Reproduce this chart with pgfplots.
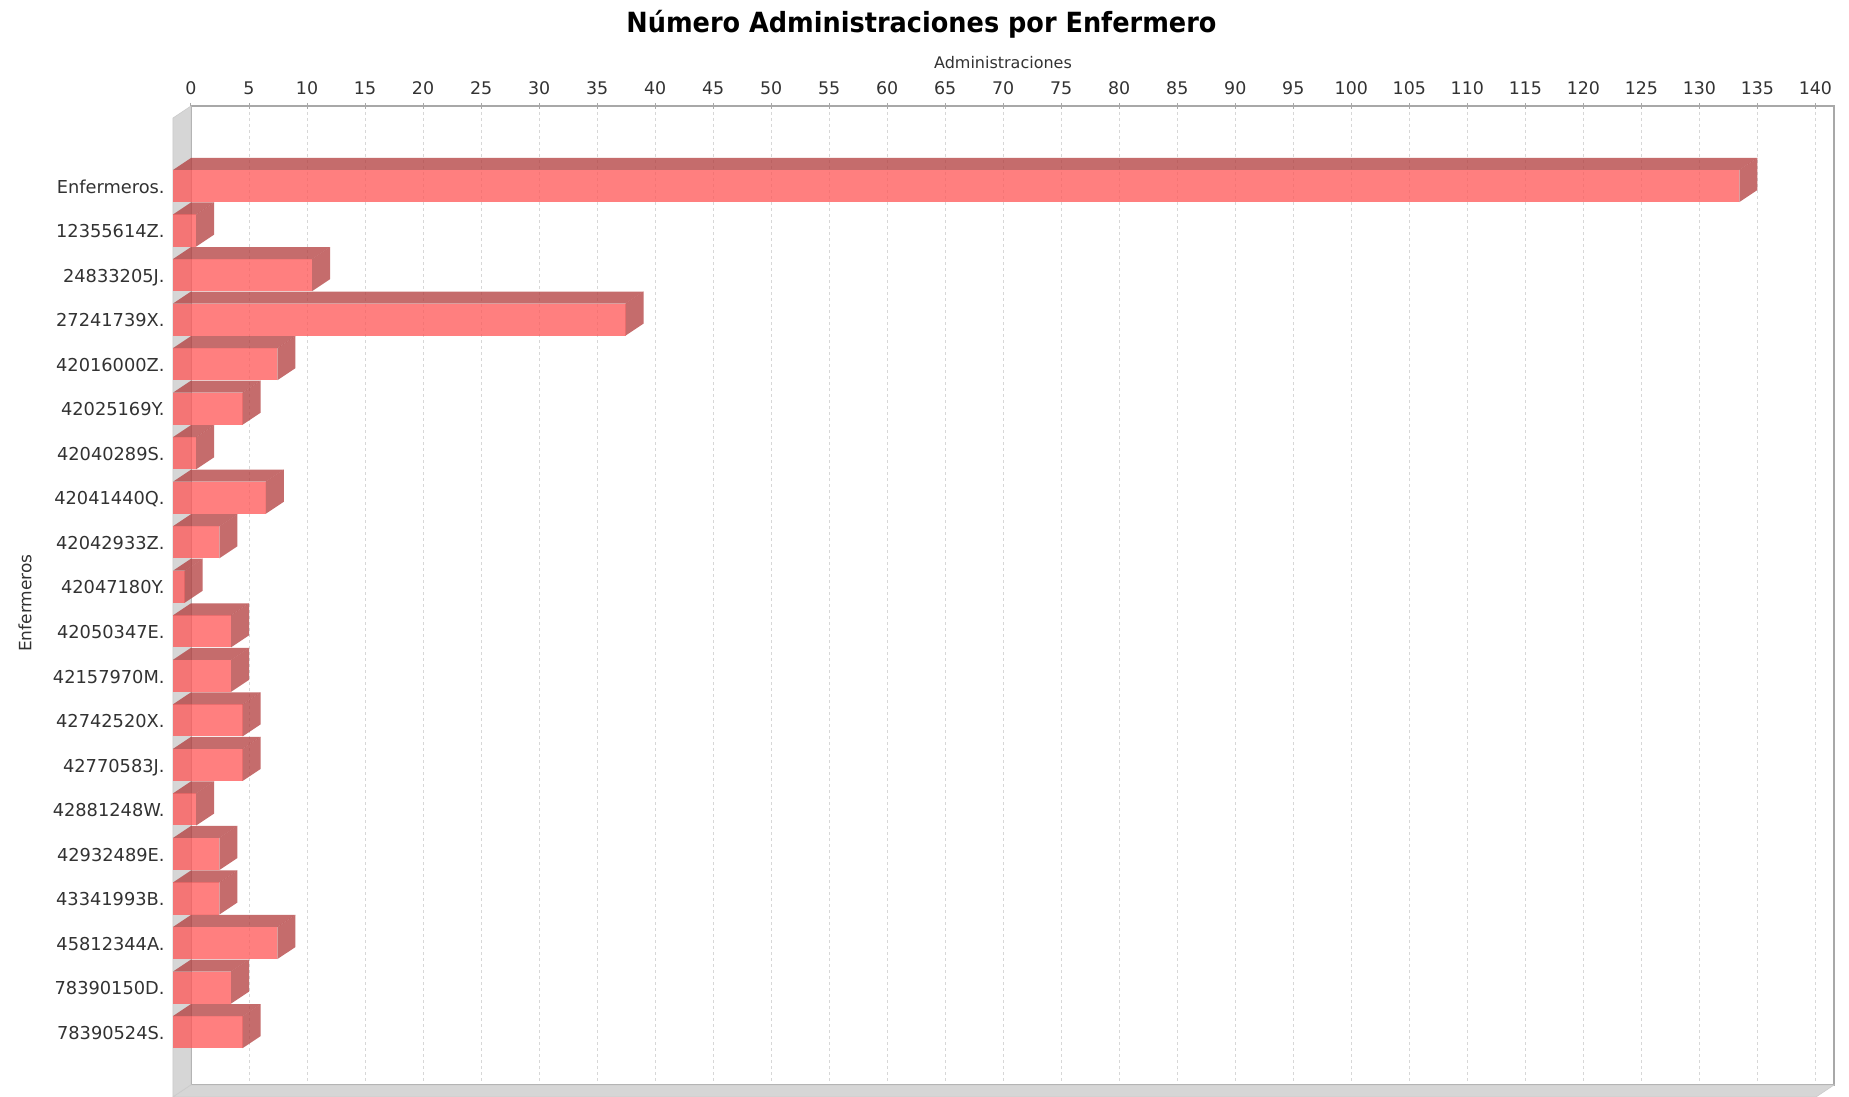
\documentclass[border=0pt]{standalone}
\usepackage{pgfplots}
\usepackage{pgfplotstable}
\pgfplotsset{compat=1.18}
\usepackage{fontspec}
\setmainfont{DejaVu Sans}
\newfontfamily\titlefont[FakeStretch=0.92]{DejaVu Sans}

\definecolor{barred}{RGB}{255,85,85}
\definecolor{bardark}{RGB}{178,59,59}
\definecolor{wallgray}{RGB}{214,214,214}
\definecolor{gridgray}{RGB}{215,215,215}
\definecolor{framegray}{RGB}{168,168,168}
\definecolor{labelgray}{RGB}{50,50,50}

% administrations per nurse
\pgfplotstableread{
idx name val
0 Enfermeros. 135
1 12355614Z. 2
2 24833205J. 12
3 27241739X. 39
4 42016000Z. 9
5 42025169Y. 6
6 42040289S. 2
7 42041440Q. 8
8 42042933Z. 4
9 42047180Y. 1
10 42050347E. 5
11 42157970M. 5
12 42742520X. 6
13 42770583J. 6
14 42881248W. 2
15 42932489E. 4
16 43341993B. 4
17 45812344A. 9
18 78390150D. 5
19 78390524S. 6
}\data

% 3D depth (axis units), half bar thickness, plot range
\def\dx{1.552}
\def\dy{0.2695}
\def\hh{0.36}
\def\xtop{141.6}
\def\ylo{-1.527}
\def\yhi{20.458}
\pgfmathsetmacro\ylof{\ylo+\dy}
\pgfmathsetmacro\yhif{\yhi+\dy}
\pgfmathsetmacro\xtopf{\xtop-\dx}

\pgfplotsset{
  barface/.style={fill=barred, fill opacity=0.75, draw=none},
  sideface/.style={fill=bardark, fill opacity=0.75, draw=none},
}

\begin{document}
\begin{tikzpicture}
\useasboundingbox (-95.5pt,-6pt) rectangle (829pt,542.5pt);
\begin{axis}[
  at={(0,0)}, anchor=south west,
  scale only axis, width=821.5pt, height=489.5pt,
  xmin=0, xmax=\xtop, ymin=\ylo, ymax=\yhi,
  y dir=reverse,
  clip=false,
  axis background/.style={fill=white},
  axis line style={framegray, line width=0.6pt},
  xtick={0,5,...,140},
  xtick pos=upper, xticklabel pos=upper,
  tick align=center, major tick length=3pt,
  xtick style={framegray, line width=0.5pt},
  xmajorgrids,
  grid style={gridgray, dash pattern=on 1.5pt off 1.5pt, line width=0.4pt},
  ytick={0,...,19},
  yticklabels from table={\data}{name},
  ytick style={draw=none},
  /pgf/number format/assume math mode=true,
  xticklabel style={font=\fontsize{8.7}{10}\selectfont, anchor=center,
    yshift=7.3pt, text=labelgray},
  yticklabel style={font=\fontsize{8.9}{10}\selectfont, anchor=base east,
    inner sep=0pt, xshift=-11.5pt, yshift=-9.6pt, text=labelgray},
  xlabel={Administraciones},
  xlabel style={at={(axis description cs:0.4942,1.0442)}, anchor=center,
    font=\fontsize{8}{10}\selectfont, text=labelgray},
  ylabel={Enfermeros},
  ylabel style={at={(axis description cs:-0.101,0.4923)}, anchor=center,
    font=\fontsize{8.5}{10}\selectfont, text=labelgray},
]
% chart title
\node[anchor=base, inner sep=0pt, font=\titlefont\bfseries\fontsize{13.9}{16}\selectfont]
  at (axis description cs:0.4446,1.0746) {Número Administraciones por Enfermero};

% left wall and floor of the 3D plot
\addplot[fill=wallgray, draw=framegray!60, line width=0.3pt]
  coordinates {(0,\ylo) (0,\yhi) (-\dx,\yhif) (-\dx,\ylof)} -- cycle;
\addplot[fill=wallgray, draw=framegray!60, line width=0.3pt]
  coordinates {(0,\yhi) (\xtop,\yhi) (\xtopf,\yhif) (-\dx,\yhif)} -- cycle;

% each bar: front face, top face, right side face
\pgfplotsinvokeforeach{0,...,19}{
  \pgfplotstablegetelem{#1}{val}\of\data
  \pgfmathsetmacro\vb{\pgfplotsretval}
  \pgfmathsetmacro\vf{\pgfplotsretval-\dx}
  \pgfmathsetmacro\bt{#1-\hh}
  \pgfmathsetmacro\bb{#1+\hh}
  \pgfmathsetmacro\ft{#1+\dy-\hh}
  \pgfmathsetmacro\fb{#1+\dy+\hh}
  \edef\drawbar{%
    \noexpand\addplot[barface] coordinates {(-\dx,\ft) (\vf,\ft) (\vf,\fb) (-\dx,\fb)} -- cycle;
    \noexpand\addplot[sideface] coordinates {(-\dx,\ft) (0,\bt) (\vb,\bt) (\vf,\ft)} -- cycle;
    \noexpand\addplot[sideface] coordinates {(\vf,\ft) (\vb,\bt) (\vb,\bb) (\vf,\fb)} -- cycle;
  }%
  \drawbar
}
\end{axis}
\end{tikzpicture}
\end{document}
